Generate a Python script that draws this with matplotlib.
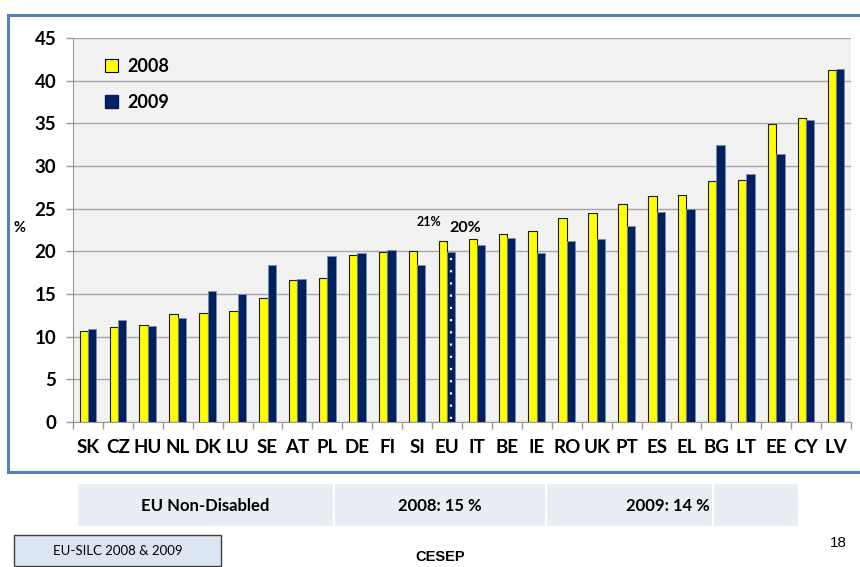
import numpy as np
import matplotlib
matplotlib.use("Agg")
import matplotlib.pyplot as plt
from matplotlib.patches import Rectangle, Patch
from matplotlib.lines import Line2D

# data
countries = ['SK', 'CZ', 'HU', 'NL', 'DK', 'LU', 'SE', 'AT', 'PL', 'DE', 'FI', 'SI', 'EU',
             'IT', 'BE', 'IE', 'RO', 'UK', 'PT', 'ES', 'EL', 'BG', 'LT', 'EE', 'CY', 'LV']
v2008 = [10.7, 11.1, 11.4, 12.6, 12.8, 13.0, 14.5, 16.6, 16.9, 19.6, 19.9, 20.0, 21.2,
         21.4, 22.0, 22.4, 23.9, 24.5, 25.5, 26.5, 26.6, 28.3, 28.4, 34.9, 35.6, 41.2]
v2009 = [10.9, 11.9, 11.2, 12.2, 15.3, 15.0, 18.4, 16.7, 19.5, 19.85, 20.1, 18.4, 19.9,
         20.7, 21.6, 19.8, 21.2, 21.4, 23.0, 24.6, 25.0, 32.5, 29.1, 31.4, 35.4, 41.4]
years = ['2008', '2009']
table_cells = ['EU Non-Disabled', '2008: 15 %', '2009: 14 %', '']
source = 'EU-SILC 2008 & 2009'

YELLOW = '#FFFF00'
NAVY = '#002060'
FONT = ['Lato', 'DejaVu Sans']
plt.rcParams['font.family'] = FONT

W, H = 860, 567
fig = plt.figure(figsize=(W / 100, H / 100), dpi=100)

def fx(px):
    return px / W

def fy(py):
    return 1 - py / H

ax = fig.add_axes([fx(73), fy(422), (851 - 73) / W, (422 - 38) / H])
ax.set_facecolor('#F2F2F2')

x = np.arange(len(countries))
bw = 0.28
ax.bar(x - bw / 2, v2008, bw, color=YELLOW, edgecolor='#1a1a1a', linewidth=0.8, zorder=3)
ax.bar(x + bw / 2, v2009, bw, color=NAVY, edgecolor='#7f8fa6', linewidth=0.6, zorder=3)

# EU bar has a white dotted column
eu = countries.index('EU')
ax.plot([eu + bw / 2, eu + bw / 2], [0.4, v2009[eu] - 0.4], color='white',
        linestyle=(0, (1, 4.5)), lw=1.6, zorder=4)

ax.annotate(f"{round(v2008[eu])}%", (eu - bw / 2, v2008[eu]), xytext=(-10, 13.7),
            textcoords='offset points', ha='center', va='center',
            fontsize=9, fontweight='bold')
ax.annotate(f"{round(v2009[eu])}%", (eu + bw / 2, v2009[eu]), xytext=(10, 17.4),
            textcoords='offset points', ha='center', va='center',
            fontsize=11.5, fontweight='bold')

ax.set_xlim(-0.5, len(countries) - 0.5)
ax.set_ylim(0, 45)
ax.set_yticks(np.arange(0, 46, 5))
ax.yaxis.grid(True, color='#A6A6A6', linewidth=1.0, zorder=0)
ax.set_axisbelow(True)

ax.set_xticks(x)
ax.set_xticklabels(countries, fontsize=13.5, fontweight='bold')
ax.set_xticks(np.arange(-0.5, len(countries), 1), minor=True)
ax.tick_params(axis='x', which='major', length=0, pad=12)
ax.tick_params(axis='x', which='minor', length=5, color='#999999', width=1)
ax.tick_params(axis='y', length=5, color='#999999', width=1, labelsize=13.5, pad=7)
for lab in ax.get_yticklabels():
    lab.set_fontweight('bold')

for s in ['top', 'right']:
    ax.spines[s].set_visible(False)
ax.spines['left'].set_color('#999999')
ax.spines['bottom'].set_color('#999999')

handles = [Patch(facecolor=YELLOW, edgecolor='black', linewidth=0.8),
           Patch(facecolor=NAVY, edgecolor=NAVY)]
ax.legend(handles, years, loc='upper left', bbox_to_anchor=(0.02, 0.99), frameon=False,
          handlelength=0.75, handleheight=0.75, handletextpad=0.5, labelspacing=1.05,
          prop={'weight': 'bold', 'size': 13, 'family': FONT})

fig.text(fx(20), fy(228), '%', fontsize=10.5, fontweight='bold', ha='center', va='center')

# blue frame around the chart
frame = '#4F81BD'
for xs, ys in [([8, 870], [15, 15]), ([8, 8], [15, 472]), ([8, 870], [472, 472])]:
    fig.add_artist(Line2D([fx(v) for v in xs], [fy(v) for v in ys], color=frame, lw=2.2))

# table band below the chart
cell_edges = [78, 335, 547, 714, 800]
for i, txt in enumerate(table_cells):
    x0, x1 = cell_edges[i], cell_edges[i + 1] - 2
    fig.add_artist(Rectangle((fx(x0), fy(526)), fx(x1 - x0), (526 - 484) / H,
                             facecolor='#E9EDF4', edgecolor='none'))
    if txt:
        cx = (x0 + x1) / 2 if i < 2 else 668
        fig.text(fx(cx), fy(506), txt, fontsize=12, fontweight='bold', ha='center', va='center')

fig.add_artist(Rectangle((fx(14), fy(566)), fx(221 - 14), (566 - 535) / H,
                         facecolor='#DBE5F1', edgecolor='#404040', linewidth=1))
fig.text(fx(118), fy(551), source, fontsize=9.5, ha='center', va='center')
fig.text(fx(440), fy(557), 'CESEP', fontsize=10.5, fontweight='bold', ha='center', va='center',
         family='Liberation Sans')
fig.text(fx(838), fy(543), '18', fontsize=11, ha='center', va='center', family='Liberation Sans')

fig.savefig('out.png', dpi=100)
